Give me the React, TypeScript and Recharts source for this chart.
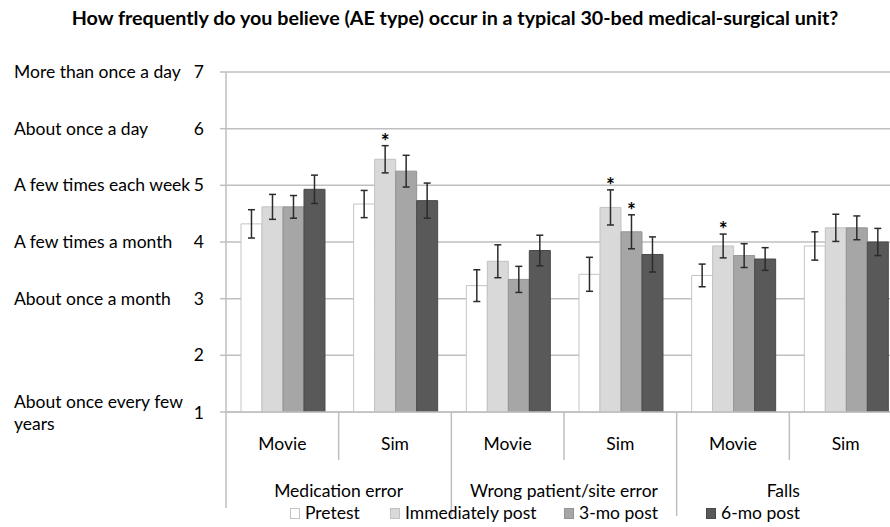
import { BarChart, Bar, XAxis, YAxis, CartesianGrid, ErrorBar, LabelList } from 'recharts';

const FONT = 'Lato, "Open Sans", sans-serif';

const rowKeys = ['med-movie', 'med-sim', 'wrong-movie', 'wrong-sim', 'falls-movie', 'falls-sim'];
const subLabels = ['Movie', 'Sim', 'Movie', 'Sim', 'Movie', 'Sim'];
const groupLabels = ['Medication error', 'Wrong patient/site error', 'Falls'];

const pretest = [4.32, 4.67, 3.23, 3.43, 3.41, 3.93];
const pretestErr = [0.25, 0.24, 0.28, 0.3, 0.2, 0.25];
const immediate = [4.62, 5.46, 3.66, 4.61, 3.93, 4.25];
const immediateErr = [0.22, 0.24, 0.29, 0.31, 0.21, 0.24];
const threeMonth = [4.62, 5.25, 3.34, 4.18, 3.76, 4.25];
const threeMonthErr = [0.2, 0.28, 0.23, 0.3, 0.21, 0.21];
const sixMonth = [4.93, 4.73, 3.85, 3.78, 3.7, 4.0];
const sixMonthErr = [0.25, 0.31, 0.27, 0.31, 0.2, 0.24];

// significance markers (*) above the bars
const immediateSig = [false, true, false, true, true, false];
const threeMonthSig = [false, false, false, true, false, false];

const yTicks = [1, 2, 3, 4, 5, 6, 7];
const yTickText: Record<number, string[]> = {
  7: ['More than once a day'],
  6: ['About once a day'],
  5: ['A few times each week'],
  4: ['A few times a month'],
  3: ['About once a month'],
  2: [],
  1: ['About once every few', 'years'],
};

const seriesNames = ['Pretest', 'Immediately post', '3-mo post', '6-mo post'];
const seriesFill = ['#ffffff', '#d9d9d9', '#a6a6a6', '#595959'];
const seriesStroke = ['#c4c4c4', '#c2c2c2', '#939393', '#4a4a4a'];

const data = rowKeys.map((key, i) => ({
  key,
  pre: pretest[i],
  preErr: pretestErr[i],
  imm: immediate[i],
  immErr: immediateErr[i],
  three: threeMonth[i],
  threeErr: threeMonthErr[i],
  six: sixMonth[i],
  sixErr: sixMonthErr[i],
}));

const VIEW_W = 890;
const VIEW_H = 527;
const LINE = '#bfbfbf';

const YTick = (props: any) => {
  const { x, y, payload } = props;
  const v = payload.value as number;
  const lines = yTickText[v] || [];
  const shift = lines.length > 1 ? 1 : 0;
  return (
    <g fontFamily={FONT} fontSize={17.5} fill="#000">
      <text x={x} y={y + shift} dy={6} textAnchor="end" fill="#000">
        {v}
      </text>
      {lines.map((t, k) => (
        <text key={k} x={14} y={y + shift + (k - (lines.length - 1) / 2) * 22} dy={6} fill="#000">
          {t}
        </text>
      ))}
    </g>
  );
};

const XTick = (props: any) => {
  const { x, y, payload, index } = props;
  const half = payload && payload.offset ? payload.offset : 56.33;
  const right = x + half;
  const left = x - half;
  const groupEnd = index % 2 === 1;
  let groupCenter = right;
  if (index % 2 === 0) {
    const gRight = Math.min(x + 3 * half, VIEW_W);
    groupCenter = (left + gRight) / 2;
  }
  return (
    <g fontFamily={FONT} fontSize={17.5}>
      {index === 0 && <line x1={left} x2={left} y1={y} y2={y + 96} stroke={LINE} strokeWidth={1.5} />}
      <line x1={right} x2={right} y1={y} y2={y + (groupEnd ? 104 : 48)} stroke={LINE} strokeWidth={1.5} />
      <text x={x} y={y + 38} textAnchor="middle" fill="#000">
        {subLabels[index]}
      </text>
      {index % 2 === 0 && (
        <text x={groupCenter} y={y + 85} textAnchor="middle" fill="#000">
          {groupLabels[index / 2]}
        </text>
      )}
    </g>
  );
};

const starLabel = (values: number[], errs: number[], sig: boolean[]) => (props: any) => {
  const { index } = props;
  if (!sig[index]) return null;
  const x = Number(props.x);
  const y = Number(props.y);
  const width = Number(props.width);
  const height = Math.abs(Number(props.height));
  const perUnit = height / (values[index] - 1);
  const errTop = y - errs[index] * perUnit;
  return (
    <text x={x + width / 2} y={errTop + 3} textAnchor="middle" fontFamily={FONT} fontWeight="bold" fontSize={21} fill="#000">
      *
    </text>
  );
};

const legendLeft = [290, 390, 564, 706];

const ChartLegend = () => (
  <div style={{ position: 'absolute', left: 0, top: 502, width: VIEW_W, height: 22, fontFamily: FONT, fontSize: 17.5, color: '#000', zIndex: 3 }}>
    {seriesNames.map((name, i) => (
      <div
        key={name}
        style={{ position: 'absolute', left: legendLeft[i], top: 0, display: 'flex', alignItems: 'center', lineHeight: '22px', whiteSpace: 'nowrap' }}
      >
        <span
          style={{
            display: 'inline-block',
            width: 8,
            height: 9,
            background: seriesFill[i],
            border: `1px solid ${seriesStroke[i]}`,
            marginRight: 5,
          }}
        />
        <span>{name}</span>
      </div>
    ))}
  </div>
);

export default function App() {
  return (
    <div style={{ position: 'fixed', top: 0, left: 0, width: VIEW_W, height: VIEW_H, overflow: 'hidden', background: '#fff' }}>
      <div
        style={{
          position: 'absolute',
          top: 6,
          left: 0,
          width: 910,
          textAlign: 'center',
          fontFamily: FONT,
          fontWeight: 'bold',
          fontSize: 19.7,
          lineHeight: '24px',
          color: '#000',
          zIndex: 2,
          whiteSpace: 'nowrap',
        }}
      >
        How frequently do you believe (AE type) occur in a typical 30-bed medical-surgical unit?
      </div>
      <BarChart
        width={905}
        height={VIEW_H}
        data={data}
        margin={{ top: 72, right: 3, bottom: 0, left: 0 }}
        barCategoryGap="13.3%"
        barGap={0}
      >
        <CartesianGrid vertical={false} stroke={LINE} strokeWidth={1.5} />
        <YAxis
          domain={[1, 7]}
          ticks={yTicks}
          width={226}
          tickSize={6}
          tickMargin={16}
          axisLine={{ stroke: LINE, strokeWidth: 1.5 }}
          tickLine={{ stroke: LINE, strokeWidth: 1.5 }}
          tick={<YTick />}
          interval={0}
          allowDataOverflow
        />
        <XAxis
          dataKey="key"
          height={115}
          interval={0}
          tickLine={false}
          tickSize={0}
          tickMargin={0}
          axisLine={{ stroke: LINE, strokeWidth: 1.5 }}
          tick={<XTick />}
        />
        <Bar dataKey="pre" name={seriesNames[0]} fill={seriesFill[0]} stroke={seriesStroke[0]} strokeWidth={1} isAnimationActive={false}>
          <ErrorBar dataKey="preErr" width={3.5} stroke="#2b2b2b" strokeWidth={1.5} />
        </Bar>
        <Bar dataKey="imm" name={seriesNames[1]} fill={seriesFill[1]} stroke={seriesStroke[1]} strokeWidth={1} isAnimationActive={false}>
          <ErrorBar dataKey="immErr" width={3.5} stroke="#2b2b2b" strokeWidth={1.5} />
          <LabelList dataKey="imm" content={starLabel(immediate, immediateErr, immediateSig)} />
        </Bar>
        <Bar dataKey="three" name={seriesNames[2]} fill={seriesFill[2]} stroke={seriesStroke[2]} strokeWidth={1} isAnimationActive={false}>
          <ErrorBar dataKey="threeErr" width={3.5} stroke="#2b2b2b" strokeWidth={1.5} />
          <LabelList dataKey="three" content={starLabel(threeMonth, threeMonthErr, threeMonthSig)} />
        </Bar>
        <Bar dataKey="six" name={seriesNames[3]} fill={seriesFill[3]} stroke={seriesStroke[3]} strokeWidth={1} isAnimationActive={false}>
          <ErrorBar dataKey="sixErr" width={3.5} stroke="#2b2b2b" strokeWidth={1.5} />
        </Bar>
      </BarChart>
      <ChartLegend />
    </div>
  );
}
